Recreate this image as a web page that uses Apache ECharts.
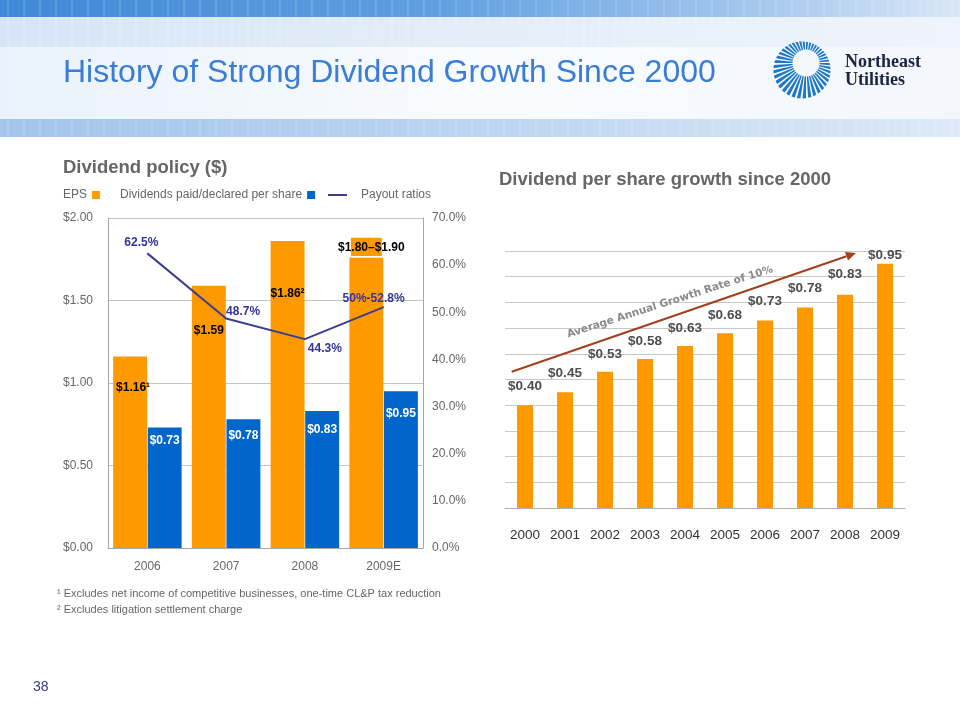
<!DOCTYPE html>
<html><head><meta charset="utf-8">
<script src="https://cdn.jsdelivr.net/npm/echarts@6.0.0/dist/echarts.min.js"></script>
<style>html,body{margin:0;padding:0;background:#fff}#c{width:960px;height:720px}</style>
</head><body><div id="c"></div>
<script>
// ---------- data ----------
const policyYears = ['2006', '2007', '2008', '2009E'];
const epsValues = [1.16, 1.59, 1.86, 1.76];
const epsRangeTop = [null, null, null, 1.89];
const dividendValues = [0.73, 0.78, 0.83, 0.95];
const payoutRatios = [62.5, 48.7, 44.3, 51.1];
const epsLabels = ['$1.16¹', '$1.59', '$1.86²', '$1.80–$1.90'];
const dividendLabels = ['$0.73', '$0.78', '$0.83', '$0.95'];
const payoutLabels = ['62.5%', '48.7%', '44.3%', '50%-52.8%'];

const growthYears = ['2000', '2001', '2002', '2003', '2004', '2005', '2006', '2007', '2008', '2009'];
const growthValues = [0.40, 0.45, 0.53, 0.58, 0.63, 0.68, 0.73, 0.78, 0.83, 0.95];
const growthLabels = ['$0.40', '$0.45', '$0.53', '$0.58', '$0.63', '$0.68', '$0.73', '$0.78', '$0.83', '$0.95'];

const legendNames = ['EPS', 'Dividends paid/declared per share', 'Payout ratios'];
const footnotes = ['¹ Excludes net income of competitive businesses, one-time CL&P tax reduction', '² Excludes litigation settlement charge'];

// ---------- styles ----------
const ORANGE = '#FF9900', BLUE = '#0066CC', NAVY = '#3D3D8F';
const epsLabelDistance = [25, 39, 47, 6];
const epsLabelOffset = [[3, 0], [0, 0], [0, 0], [5, 0]];
const dividendLabelDistance = [7, 10, 13, 16];
const payoutLabelOffset = [[-6, 1], [17, 5], [20, 21], [-10, 3]];
const growthLabelDistance = [12, 12, 11, 11, 11, 11, 12, 12, 13, 2];
const SANS = "'Liberation Sans',Arial,sans-serif";

const epsData = epsValues.map((v, i) => ({
  value: v,
  label: epsRangeTop[i] == null
    ? { show: true, position: 'insideTop', distance: epsLabelDistance[i], offset: epsLabelOffset[i], formatter: epsLabels[i] }
    : { show: false }
}));
const epsRangeData = epsRangeTop.map((v, i) => v == null ? '-' : ({
  value: +(v - epsValues[i]).toFixed(2),
  label: { show: true, position: 'insideTop', distance: epsLabelDistance[i], offset: epsLabelOffset[i], formatter: epsLabels[i] }
}));
const dividendData = dividendValues.map((v, i) => ({
  value: v,
  label: { show: true, position: 'insideTop', distance: dividendLabelDistance[i], formatter: dividendLabels[i] }
}));
const payoutData = payoutRatios.map((v, i) => ({
  value: v,
  label: { show: true, position: 'top', offset: payoutLabelOffset[i], formatter: payoutLabels[i] }
}));
const growthData = growthValues.map((v, i) => ({
  value: v,
  label: { show: true, position: 'top', distance: growthLabelDistance[i], formatter: growthLabels[i] }
}));

// ---------- header / annotations ----------
const graphics = [];
graphics.push({ type: 'rect', shape: { x: 0, y: 0, width: 960, height: 17 }, silent: true,
  style: { fill: new echarts.graphic.LinearGradient(0, 0, 1, 0, [
    { offset: 0, color: '#4089d6' }, { offset: 0.45, color: '#5f9fe0' }, { offset: 0.8, color: '#a8c9ee' }, { offset: 1, color: '#d9e7f6' }]) } });
graphics.push({ type: 'rect', shape: { x: 0, y: 17, width: 960, height: 30 }, silent: true,
  style: { fill: new echarts.graphic.LinearGradient(0, 0, 1, 0, [
    { offset: 0, color: '#d6e6f7' }, { offset: 0.6, color: '#e6eff9' }, { offset: 1, color: '#eef4fb' }]) } });
graphics.push({ type: 'rect', shape: { x: 0, y: 47, width: 960, height: 72 }, silent: true,
  style: { fill: new echarts.graphic.LinearGradient(0, 0, 1, 0, [
    { offset: 0, color: '#eaf2fb' }, { offset: 0.5, color: '#f8fbfe' }, { offset: 1, color: '#f3f7fc' }]) } });
graphics.push({ type: 'rect', shape: { x: 0, y: 119, width: 960, height: 18 }, silent: true,
  style: { fill: new echarts.graphic.LinearGradient(0, 0, 1, 0, [
    { offset: 0, color: '#a3c4eb' }, { offset: 0.5, color: '#bcd5f1' }, { offset: 1, color: '#dde9f7' }]) } });
for (let x = 8; x < 960; x += 16) {
  graphics.push({ type: 'line', silent: true, shape: { x1: x, y1: 0, x2: x, y2: 137 },
    style: { stroke: 'rgba(255,255,255,0.28)', lineWidth: 1 } });
}
graphics.push({ type: 'text', left: 63, top: 57, silent: true,
  style: { text: 'History of Strong Dividend Growth Since 2000', fill: '#3B7DD6', font: '32px ' + SANS } });

// logo: blue wedges radiating from an off-centre point, clipped to a circle
const lc = [802, 70], lr = 28.5, ic = [806, 63];
const dvec = [ic[0] - lc[0], ic[1] - lc[1]];
const edge = th => {
  const u = [Math.cos(th), Math.sin(th)];
  const du = dvec[0] * u[0] + dvec[1] * u[1];
  const t = -du + Math.sqrt(du * du - (dvec[0] * dvec[0] + dvec[1] * dvec[1]) + lr * lr);
  return [ic[0] + u[0] * t, ic[1] + u[1] * t];
};
const NR = 40;
for (let k = 0; k < NR; k++) {
  const t0 = (k / NR) * 2 * Math.PI, t1 = ((k + 0.62) / NR) * 2 * Math.PI;
  const pts = [ic];
  for (let s = 0; s <= 3; s++) pts.push(edge(t0 + (t1 - t0) * s / 3));
  graphics.push({ type: 'polygon', silent: true, shape: { points: pts }, style: { fill: '#1f78c6' } });
}
graphics.push({ type: 'circle', silent: true, shape: { cx: ic[0], cy: ic[1], r: 13.5 }, style: { fill: '#f4f8fd' } });
graphics.push({ type: 'text', left: 845, top: 53, silent: true,
  style: { text: 'Northeast', fill: '#1b2440', font: "bold 18px 'Liberation Serif','Times New Roman',serif" } });
graphics.push({ type: 'text', left: 845, top: 71, silent: true,
  style: { text: 'Utilities', fill: '#1b2440', font: "bold 18px 'Liberation Serif','Times New Roman',serif" } });

// section titles
graphics.push({ type: 'text', left: 63, top: 158, silent: true,
  style: { text: 'Dividend policy ($)', fill: '#666666', font: 'bold 18.5px ' + SANS } });
graphics.push({ type: 'text', left: 499, top: 170, silent: true,
  style: { text: 'Dividend per share growth since 2000', fill: '#666666', font: 'bold 18.5px ' + SANS } });

// footnotes and page number
footnotes.forEach((t, i) => {
  graphics.push({ type: 'text', left: 57, top: 588 + i * 16, silent: true,
    style: { text: t, fill: '#666666', font: '11px ' + SANS } });
});
graphics.push({ type: 'text', left: 33, top: 680, silent: true,
  style: { text: '38', fill: '#3a3a78', font: '14px ' + SANS } });

// growth arrow annotation
const a0 = [511.7, 371.7], a1 = [856, 253];
const dx = a1[0] - a0[0], dy = a1[1] - a0[1], L = Math.hypot(dx, dy), ux = dx / L, uy = dy / L;
const hb = [a1[0] - ux * 10, a1[1] - uy * 10];
graphics.push({ type: 'line', z: 50, silent: true, shape: { x1: a0[0], y1: a0[1], x2: hb[0], y2: hb[1] },
  style: { stroke: '#A23F1C', lineWidth: 2 } });
graphics.push({ type: 'polygon', z: 50, silent: true,
  shape: { points: [a1, [hb[0] - uy * 4.5, hb[1] + ux * 4.5], [hb[0] + uy * 4.5, hb[1] - ux * 4.5]] },
  style: { fill: '#A23F1C' } });
graphics.push({ type: 'text', z: 50, silent: true, x: 670, y: 302, rotation: Math.atan2(68.4, 213.4),
  style: { text: 'Average Annual Growth Rate of 10%', fill: '#8a8a8a', font: "bold 10.5px 'DejaVu Sans',sans-serif",
    align: 'center', verticalAlign: 'middle' } });

const chart = echarts.init(document.getElementById('c'), null, { renderer: 'canvas' });
chart.setOption({
  backgroundColor: '#ffffff',
  animation: false,
  legend: [
    { data: [legendNames[0]], left: 63, top: 189, padding: 0, align: 'right', icon: 'rect', itemWidth: 8, itemHeight: 8,
      textStyle: { color: '#666', fontSize: 12, fontFamily: SANS } },
    { data: [legendNames[1]], left: 120, top: 189, padding: 0, align: 'right', icon: 'rect', itemWidth: 8, itemHeight: 8,
      textStyle: { color: '#666', fontSize: 12, fontFamily: SANS } },
    { data: [legendNames[2]], left: 328, top: 189, padding: 0, align: 'left', icon: 'rect', itemWidth: 19, itemHeight: 2,
      textStyle: { color: '#666', fontSize: 12, fontFamily: SANS, padding: [0, 0, 0, 9] } }
  ],
  grid: [
    { left: 108, right: 537, top: 218, bottom: 172 },
    { left: 505, right: 55, top: 251, bottom: 212 }
  ],
  xAxis: [
    { type: 'category', gridIndex: 0, data: policyYears,
      axisLine: { lineStyle: { color: '#a6a6a6' } }, axisTick: { show: false },
      axisLabel: { color: '#666', fontSize: 12, fontFamily: SANS, margin: 13 } },
    { type: 'category', gridIndex: 1, data: growthYears,
      axisLine: { lineStyle: { color: '#b0b0b0' } }, axisTick: { show: false },
      axisLabel: { color: '#333', fontSize: 13.5, fontFamily: SANS, margin: 20, interval: 0 } }
  ],
  yAxis: [
    { type: 'value', gridIndex: 0, min: 0, max: 2, interval: 0.5,
      axisLine: { show: true, lineStyle: { color: '#a6a6a6' } }, axisTick: { show: false },
      splitLine: { lineStyle: { color: '#c4c4c4' } },
      axisLabel: { color: '#666', fontSize: 12, fontFamily: SANS, margin: 15, formatter: v => '$' + v.toFixed(2) } },
    { type: 'value', gridIndex: 0, min: 0, max: 70, interval: 10, position: 'right',
      axisLine: { show: true, lineStyle: { color: '#a6a6a6' } }, axisTick: { show: false },
      splitLine: { show: false },
      axisLabel: { color: '#666', fontSize: 12, fontFamily: SANS, margin: 9, formatter: v => v.toFixed(1) + '%' } },
    { type: 'value', gridIndex: 1, min: 0, max: 1, interval: 0.1,
      axisLine: { show: false }, axisTick: { show: false }, axisLabel: { show: false },
      splitLine: { lineStyle: { color: '#c8c8c8' } } }
  ],
  series: [
    { name: 'EPS', type: 'bar', xAxisIndex: 0, yAxisIndex: 0, stack: 'eps', data: epsData,
      barCategoryGap: '13%', barGap: '2%', itemStyle: { color: ORANGE },
      label: { color: '#000', fontWeight: 'bold', fontSize: 12, fontFamily: SANS } },
    { name: 'EPS range', type: 'bar', xAxisIndex: 0, yAxisIndex: 0, stack: 'eps', data: epsRangeData,
      itemStyle: { color: ORANGE, borderColor: '#ffffff', borderWidth: 1.5 },
      label: { color: '#000', fontWeight: 'bold', fontSize: 12, fontFamily: SANS } },
    { name: 'Dividends paid/declared per share', type: 'bar', xAxisIndex: 0, yAxisIndex: 0, stack: 'div',
      data: dividendData, barCategoryGap: '13%', barGap: '2%', itemStyle: { color: BLUE },
      label: { color: '#fff', fontWeight: 'bold', fontSize: 12, fontFamily: SANS } },
    { name: 'Payout ratios', type: 'line', xAxisIndex: 0, yAxisIndex: 1, data: payoutData, z: 5,
      symbol: 'circle', symbolSize: 1, itemStyle: { color: NAVY }, lineStyle: { color: NAVY, width: 2 },
      label: { color: '#333399', fontWeight: 'bold', fontSize: 12, fontFamily: SANS } },
    { name: 'Dividend per share', type: 'bar', xAxisIndex: 1, yAxisIndex: 2, data: growthData,
      barWidth: 16, itemStyle: { color: ORANGE },
      label: { color: '#4d4d4d', fontWeight: 'bold', fontSize: 13.5, fontFamily: SANS } }
  ],
  graphic: { elements: graphics }
});
</script></body></html>
